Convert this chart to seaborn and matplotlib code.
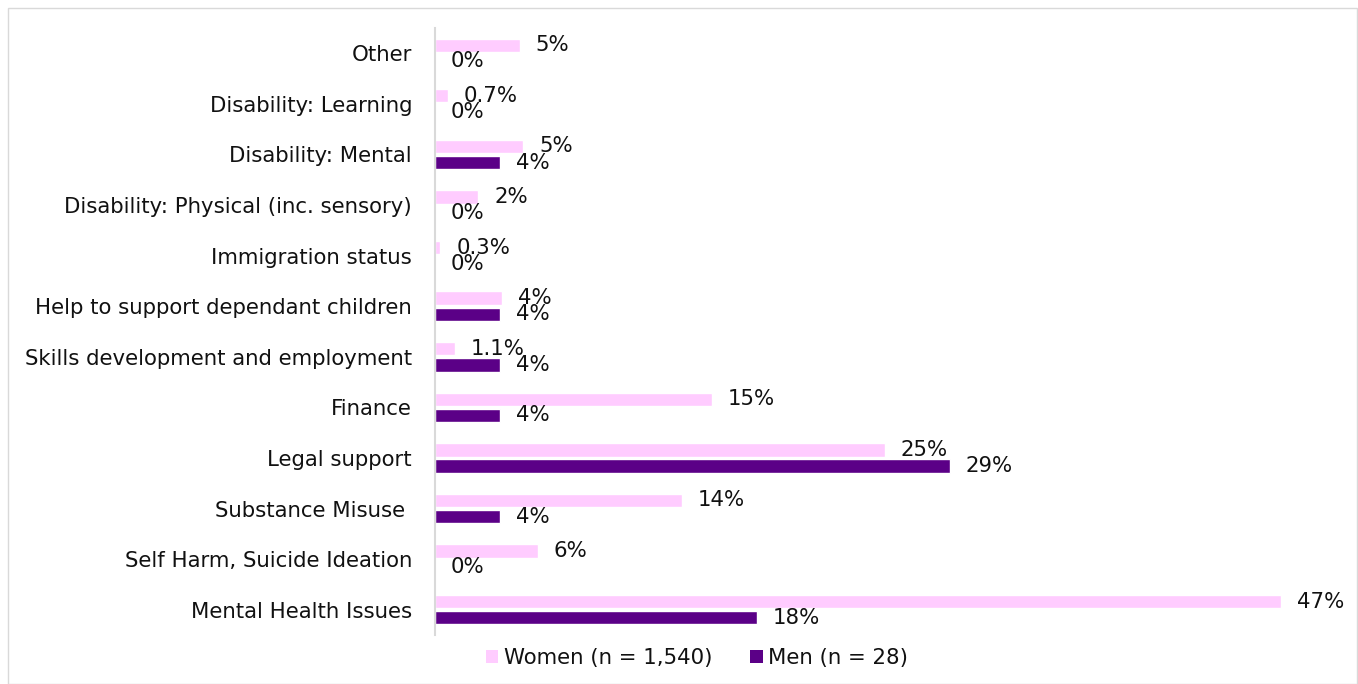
import matplotlib
matplotlib.use("Agg")
import matplotlib.pyplot as plt
import seaborn as sns
import pandas as pd
from matplotlib.patches import Rectangle, Patch

categories = ["Other", "Disability: Learning", "Disability: Mental",
              "Disability: Physical (inc. sensory)", "Immigration status",
              "Help to support dependant children", "Skills development and employment",
              "Finance", "Legal support", "Substance Misuse ",
              "Self Harm, Suicide Ideation", "Mental Health Issues"]
women = [4.7, 0.7, 4.9, 2.4, 0.3, 3.7, 1.1, 15.4, 25.0, 13.7, 5.7, 47.0]
men = [0.0, 0.0, 3.6, 0.0, 0.0, 3.6, 3.6, 3.6, 28.6, 3.6, 0.0, 17.9]
women_labels = ["5%", "0.7%", "5%", "2%", "0.3%", "4%", "1.1%", "15%", "25%", "14%", "6%", "47%"]
men_labels = ["0%", "0%", "4%", "0%", "0%", "4%", "4%", "4%", "29%", "4%", "0%", "18%"]
series = ["Women (n = 1,540)", "Men (n = 28)"]
colors = ["#FFCCFF", "#5B0087"]

df = pd.DataFrame({
    "category": categories * 2,
    "value": women + men,
    "series": [series[0]] * len(categories) + [series[1]] * len(categories),
})

sns.set_style("white")
plt.rcParams["font.family"] = ["DejaVu Sans"]
FS = 15.3

W, H = 1358, 684
fig = plt.figure(figsize=(W / 100, H / 100), dpi=100)
ax = fig.add_axes([435 / W, 1 - 635 / H, (1335 - 435) / W, (635 - 28) / H])

sns.barplot(data=df, y="category", x="value", hue="series", order=categories,
            hue_order=series, palette=colors, orient="h", width=0.64, gap=0.18,
            legend=False, ax=ax, saturation=1)

ax.set_xlim(0, 50)
ax.set_xlabel("")
ax.set_ylabel("")
ax.set_xticks([])
for s in ["top", "right", "bottom"]:
    ax.spines[s].set_visible(False)
ax.spines["left"].set_color("#D9D9D9")
ax.spines["left"].set_linewidth(1.5)
ax.tick_params(axis="y", length=0, pad=16.5, labelsize=FS, labelcolor="#111111")

labels_all = [women_labels, men_labels]
for cont, labs in zip(ax.containers, labels_all):
    for bar, lab in zip(cont, labs):
        x = bar.get_width()
        y = bar.get_y() + bar.get_height() / 2
        ax.annotate(lab, (x, y), xytext=(11.5, 0), textcoords="offset points",
                    ha="left", va="center", fontsize=FS, color="#111111")

handles = [Patch(facecolor=c, edgecolor="none") for c in colors]
fig.legend(handles, series, loc="center", bbox_to_anchor=(697 / W, 1 - 658 / H),
           ncol=2, frameon=False, fontsize=FS, handlelength=0.6, handleheight=0.6,
           handletextpad=0.25, columnspacing=1.8, labelcolor="#111111")

fig.patches.append(Rectangle((8 / W, 0), (W - 9) / W, (H - 8) / H, transform=fig.transFigure,
                             fill=False, edgecolor="#D9D9D9", linewidth=1))

fig.savefig("out.png", dpi=100)
